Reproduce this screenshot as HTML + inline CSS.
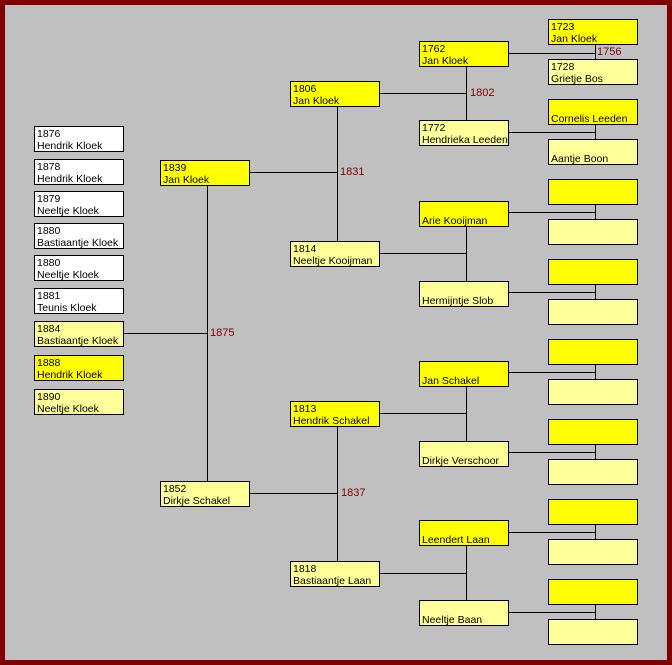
<!DOCTYPE html>
<html><head><style>
body{margin:0;width:672px;height:665px;background:#800000;position:relative;overflow:hidden;font-family:"Liberation Sans",Arial,sans-serif;}
#bg{position:absolute;left:5px;top:5px;width:662px;height:655px;background:#c0c0c0;}
.b{position:absolute;box-sizing:border-box;width:90px;height:26px;border:1px solid #000;font-size:10.5px;line-height:12px;padding:1px 0 0 2px;color:#000;white-space:nowrap;overflow:hidden;}
.w{background:#fff}.m{background:#ffff00}.f{background:#ffff99}
.e{padding-top:13px}
.l{position:absolute;font-size:11px;color:#800000;}
svg{position:absolute;left:0;top:0}
</style></head><body>
<div id="bg"></div>
<svg width="672" height="665"><g stroke="#000" stroke-width="1" shape-rendering="crispEdges">
<line x1="207.5" y1="185" x2="207.5" y2="481"/><line x1="123" y1="333.5" x2="207" y2="333.5"/>
<line x1="249" y1="172.5" x2="337" y2="172.5"/><line x1="337.5" y1="106" x2="337.5" y2="241"/>
<line x1="249" y1="493.5" x2="337" y2="493.5"/><line x1="337.5" y1="426" x2="337.5" y2="561"/>
<line x1="380" y1="93.5" x2="466" y2="93.5"/><line x1="466.5" y1="66" x2="466.5" y2="120"/>
<line x1="380" y1="253.5" x2="466" y2="253.5"/><line x1="466.5" y1="226" x2="466.5" y2="281"/>
<line x1="380" y1="413.5" x2="466" y2="413.5"/><line x1="466.5" y1="386" x2="466.5" y2="441"/>
<line x1="380" y1="573.5" x2="466" y2="573.5"/><line x1="466.5" y1="546" x2="466.5" y2="600"/>
<line x1="508" y1="53.5" x2="595" y2="53.5"/><line x1="595.5" y1="44" x2="595.5" y2="59"/>
<line x1="508" y1="132.5" x2="595" y2="132.5"/><line x1="595.5" y1="124" x2="595.5" y2="139"/>
<line x1="508" y1="212.5" x2="595" y2="212.5"/><line x1="595.5" y1="204" x2="595.5" y2="219"/>
<line x1="508" y1="292.5" x2="595" y2="292.5"/><line x1="595.5" y1="284" x2="595.5" y2="299"/>
<line x1="508" y1="372.5" x2="595" y2="372.5"/><line x1="595.5" y1="364" x2="595.5" y2="379"/>
<line x1="508" y1="452.5" x2="595" y2="452.5"/><line x1="595.5" y1="444" x2="595.5" y2="459"/>
<line x1="508" y1="532.5" x2="595" y2="532.5"/><line x1="595.5" y1="524" x2="595.5" y2="539"/>
<line x1="508" y1="612.5" x2="595" y2="612.5"/><line x1="595.5" y1="604" x2="595.5" y2="619"/>
</g></svg>
<div class="b w" style="left:34px;top:126px">1876<br>Hendrik Kloek</div>
<div class="b w" style="left:34px;top:159px">1878<br>Hendrik Kloek</div>
<div class="b w" style="left:34px;top:191px">1879<br>Neeltje Kloek</div>
<div class="b w" style="left:34px;top:223px">1880<br>Bastiaantje Kloek</div>
<div class="b w" style="left:34px;top:255px">1880<br>Neeltje Kloek</div>
<div class="b w" style="left:34px;top:288px">1881<br>Teunis Kloek</div>
<div class="b f" style="left:34px;top:321px">1884<br>Bastiaantje Kloek</div>
<div class="b m" style="left:34px;top:355px">1888<br>Hendrik Kloek</div>
<div class="b f" style="left:34px;top:389px">1890<br>Neeltje Kloek</div>
<div class="b m" style="left:160px;top:160px">1839<br>Jan Kloek</div>
<div class="b f" style="left:160px;top:481px">1852<br>Dirkje Schakel</div>
<div class="b m" style="left:290px;top:81px">1806<br>Jan Kloek</div>
<div class="b f" style="left:290px;top:241px">1814<br>Neeltje Kooijman</div>
<div class="b m" style="left:290px;top:401px">1813<br>Hendrik Schakel</div>
<div class="b f" style="left:290px;top:561px">1818<br>Bastiaantje Laan</div>
<div class="b m" style="left:419px;top:41px">1762<br>Jan Kloek</div>
<div class="b f" style="left:419px;top:120px">1772<br>Hendrieka Leeden</div>
<div class="b m e" style="left:419px;top:201px">Arie Kooijman</div>
<div class="b f e" style="left:419px;top:281px">Hermijntje Slob</div>
<div class="b m e" style="left:419px;top:361px">Jan Schakel</div>
<div class="b f e" style="left:419px;top:441px">Dirkje Verschoor</div>
<div class="b m e" style="left:419px;top:520px">Leendert Laan</div>
<div class="b f e" style="left:419px;top:600px">Neeltje Baan</div>
<div class="b m" style="left:548px;top:19px">1723<br>Jan Kloek</div>
<div class="b f" style="left:548px;top:59px">1728<br>Grietje Bos</div>
<div class="b m e" style="left:548px;top:99px">Cornelis Leeden</div>
<div class="b f e" style="left:548px;top:139px">Aantje Boon</div>
<div class="b m" style="left:548px;top:179px"></div>
<div class="b f" style="left:548px;top:219px"></div>
<div class="b m" style="left:548px;top:259px"></div>
<div class="b f" style="left:548px;top:299px"></div>
<div class="b m" style="left:548px;top:339px"></div>
<div class="b f" style="left:548px;top:379px"></div>
<div class="b m" style="left:548px;top:419px"></div>
<div class="b f" style="left:548px;top:459px"></div>
<div class="b m" style="left:548px;top:499px"></div>
<div class="b f" style="left:548px;top:539px"></div>
<div class="b m" style="left:548px;top:579px"></div>
<div class="b f" style="left:548px;top:619px"></div>
<div class="l" style="left:210px;top:327px">1875</div>
<div class="l" style="left:340px;top:166px">1831</div>
<div class="l" style="left:341px;top:487px">1837</div>
<div class="l" style="left:470px;top:87px">1802</div>
<div class="l" style="left:597px;top:46px">1756</div>
</body></html>
